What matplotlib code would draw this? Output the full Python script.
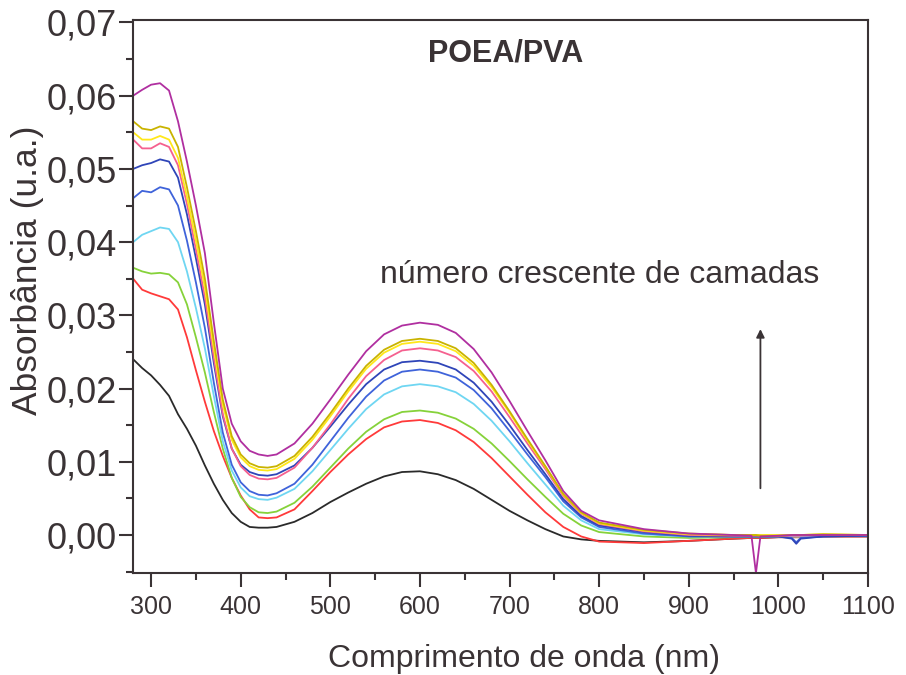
import numpy as np
import matplotlib
matplotlib.use("Agg")
import matplotlib.pyplot as plt
from matplotlib.ticker import MultipleLocator, FuncFormatter

plt.rcParams['font.family'] = ['Liberation Sans', 'DejaVu Sans']

# wavelength grid (nm)
wl = [280, 290, 300, 310, 320, 330, 340, 350, 360, 370, 380, 390, 400, 410, 420, 430, 440,
      460, 480, 500, 520, 540, 560, 580, 600, 620, 640, 660, 680, 700, 720, 740, 760, 780,
      800, 850, 900, 950, 970, 975, 980, 1000, 1015, 1020, 1025, 1050, 1100]

# absorbance of each film, from fewest to most layers
black = [0.0240, 0.0228, 0.0218, 0.0205, 0.0190, 0.0165, 0.0145, 0.0122, 0.0095, 0.0070, 0.0048, 0.0030, 0.0018, 0.0011, 0.0010, 0.0010, 0.0011,
         0.0018, 0.0030, 0.0045, 0.0058, 0.0070, 0.0080, 0.0086, 0.0087, 0.0083, 0.0075, 0.0063, 0.0048, 0.0033, 0.0020, 0.0008, -0.0002, -0.0006,
         -0.0008, -0.0010, -0.0008, -0.0005, -0.0004, -0.0004, -0.0004, -0.0003, -0.0003, -0.0003, -0.0003, -0.0002, -0.0002]
red = [0.0350, 0.0335, 0.0330, 0.0326, 0.0322, 0.0308, 0.0270, 0.0225, 0.0182, 0.0142, 0.0108, 0.0078, 0.0054, 0.0035, 0.0024, 0.0023, 0.0024,
       0.0035, 0.0060, 0.0086, 0.0110, 0.0131, 0.0147, 0.0155, 0.0157, 0.0153, 0.0143, 0.0127, 0.0105, 0.0080, 0.0055, 0.0031, 0.0011, -0.0002,
       -0.0009, -0.0011, -0.0008, -0.0005, -0.0004, -0.0004, -0.0004, -0.0003, -0.0003, -0.0003, -0.0003, -0.0002, -0.0002]
green = [0.0365, 0.0360, 0.0357, 0.0358, 0.0356, 0.0345, 0.0315, 0.0270, 0.0222, 0.0168, 0.0118, 0.0078, 0.0052, 0.0038, 0.0031, 0.0030, 0.0032,
         0.0044, 0.0066, 0.0092, 0.0118, 0.0141, 0.0158, 0.0168, 0.0170, 0.0167, 0.0159, 0.0145, 0.0125, 0.0101, 0.0076, 0.0052, 0.0029, 0.0013,
         0.0004, -0.0002, -0.0004, -0.0003, -0.0003, -0.0003, -0.0003, -0.0002, -0.0002, -0.0002, -0.0002, -0.0001, -0.0001]
cyan = [0.0400, 0.0410, 0.0415, 0.0420, 0.0418, 0.0400, 0.0360, 0.0310, 0.0255, 0.0190, 0.0128, 0.0088, 0.0065, 0.0053, 0.0049, 0.0048, 0.0051,
        0.0063, 0.0087, 0.0116, 0.0145, 0.0172, 0.0192, 0.0203, 0.0206, 0.0203, 0.0195, 0.0179, 0.0156, 0.0128, 0.0098, 0.0069, 0.0040, 0.0020,
        0.0008, 0.0001, -0.0002, -0.0002, -0.0002, -0.0002, -0.0002, -0.0002, -0.0002, -0.0002, -0.0002, -0.0001, -0.0001]
blue2 = [0.0460, 0.0470, 0.0468, 0.0475, 0.0472, 0.0450, 0.0402, 0.0345, 0.0283, 0.0208, 0.0140, 0.0096, 0.0072, 0.0060, 0.0055, 0.0054, 0.0057,
         0.0070, 0.0096, 0.0128, 0.0160, 0.0189, 0.0211, 0.0223, 0.0226, 0.0223, 0.0215, 0.0198, 0.0173, 0.0142, 0.0110, 0.0079, 0.0046, 0.0024,
         0.0011, 0.0002, -0.0002, -0.0002, -0.0002, -0.0002, -0.0002, -0.0002, -0.0004, -0.0010, -0.0004, -0.0002, -0.0001]
blue1 = [0.0500, 0.0505, 0.0508, 0.0513, 0.0510, 0.0488, 0.0438, 0.0378, 0.0315, 0.0235, 0.0162, 0.0118, 0.0096, 0.0086, 0.0082, 0.0081, 0.0083,
         0.0095, 0.0119, 0.0148, 0.0178, 0.0206, 0.0226, 0.0236, 0.0238, 0.0235, 0.0226, 0.0208, 0.0182, 0.0150, 0.0116, 0.0083, 0.0049, 0.0026,
         0.0013, 0.0004, -0.0001, -0.0002, -0.0002, -0.0002, -0.0002, -0.0002, -0.0005, -0.0012, -0.0005, -0.0002, -0.0001]
pink = [0.0540, 0.0528, 0.0528, 0.0535, 0.0530, 0.0505, 0.0452, 0.0390, 0.0325, 0.0242, 0.0165, 0.0118, 0.0094, 0.0082, 0.0077, 0.0076, 0.0078,
        0.0092, 0.0119, 0.0151, 0.0186, 0.0217, 0.0239, 0.0252, 0.0255, 0.0252, 0.0243, 0.0224, 0.0196, 0.0161, 0.0125, 0.0090, 0.0053, 0.0029,
        0.0015, 0.0005, 0.0000, -0.0001, -0.0001, -0.0001, -0.0001, -0.0001, -0.0001, -0.0001, -0.0001, 0.0000, 0.0000]
yellow = [0.0550, 0.0540, 0.0540, 0.0545, 0.0540, 0.0515, 0.0462, 0.0402, 0.0338, 0.0255, 0.0178, 0.0130, 0.0106, 0.0094, 0.0089, 0.0088, 0.0090,
          0.0104, 0.0130, 0.0162, 0.0196, 0.0227, 0.0249, 0.0261, 0.0264, 0.0261, 0.0251, 0.0231, 0.0202, 0.0167, 0.0129, 0.0093, 0.0055, 0.0030,
          0.0016, 0.0006, 0.0001, 0.0000, 0.0000, 0.0000, 0.0000, 0.0000, 0.0000, 0.0000, 0.0000, 0.0001, 0.0000]
olive = [0.0565, 0.0555, 0.0553, 0.0558, 0.0555, 0.0530, 0.0475, 0.0415, 0.0350, 0.0265, 0.0185, 0.0135, 0.0110, 0.0098, 0.0093, 0.0092, 0.0094,
         0.0108, 0.0134, 0.0166, 0.0200, 0.0231, 0.0253, 0.0265, 0.0268, 0.0265, 0.0255, 0.0235, 0.0205, 0.0169, 0.0131, 0.0094, 0.0056, 0.0031,
         0.0017, 0.0007, 0.0002, 0.0000, 0.0000, 0.0000, -0.0001, -0.0001, 0.0000, 0.0000, 0.0000, 0.0001, 0.0000]
magenta = [0.0600, 0.0608, 0.0615, 0.0617, 0.0607, 0.0565, 0.0510, 0.0450, 0.0385, 0.0290, 0.0200, 0.0152, 0.0128, 0.0115, 0.0110, 0.0108, 0.0110,
           0.0125, 0.0152, 0.0185, 0.0219, 0.0251, 0.0274, 0.0286, 0.0290, 0.0287, 0.0276, 0.0254, 0.0222, 0.0183, 0.0142, 0.0102, 0.0060, 0.0033,
           0.0020, 0.0008, 0.0002, 0.0000, -0.0001, -0.0052, -0.0002, -0.0001, 0.0000, 0.0000, 0.0000, 0.0000, 0.0000]

series = [black, red, green, cyan, blue2, blue1, pink, yellow, olive, magenta]
colors = ['#2a2a2a', '#ff3a3a', '#86d23a', '#6fd6f2', '#3f63da', '#2f45b8',
          '#f5608f', '#ffe81a', '#c9b300', '#b02fa0']

fig = plt.figure(figsize=(9.06, 6.75), dpi=100)
ax = fig.add_axes([0.147, 0.151, 0.811, 0.819])

for y, c in zip(series, colors):
    ax.plot(wl, y, color=c, lw=1.3)

ax.set_xlim(280, 1100)
ax.set_ylim(-0.0052, 0.0703)

ax.xaxis.set_major_locator(MultipleLocator(100))
ax.xaxis.set_minor_locator(MultipleLocator(50))
ax.yaxis.set_major_locator(MultipleLocator(0.01))
ax.yaxis.set_minor_locator(MultipleLocator(0.005))
ax.yaxis.set_major_formatter(FuncFormatter(lambda v, p: f'{v:.2f}'.replace('.', ',')))

txt = '#3a3335'
for s in ax.spines.values():
    s.set_linewidth(1.5)
    s.set_color(txt)
ax.tick_params(which='major', direction='out', length=10, width=1.5, color=txt,
               labelcolor=txt, top=False, right=False)
ax.tick_params(which='minor', direction='out', length=5, width=1.5, color=txt,
               top=False, right=False)
ax.tick_params(axis='y', labelsize=26, pad=2)
ax.tick_params(axis='x', labelsize=18, pad=6)

ax.set_xlabel('Comprimento de onda (nm)', fontsize=23, color=txt)
ax.xaxis.set_label_coords(0.532, -0.128)
ax.set_ylabel('Absorbância (u.a.)', fontsize=25.5, color=txt)
ax.yaxis.set_label_coords(-0.122, 0.548)

ax.text(696, 0.0658, 'POEA/PVA', fontsize=22, fontweight='bold', color=txt,
        ha='center', va='center')
ax.text(801, 0.0355, 'número crescente de camadas', fontsize=23, color=txt,
        ha='center', va='center')
ax.annotate('', xy=(980, 0.0285), xytext=(980, 0.0060),
            arrowprops=dict(arrowstyle='-|>', color=txt, lw=1.3, mutation_scale=12))

fig.savefig('out.png', dpi=100)
